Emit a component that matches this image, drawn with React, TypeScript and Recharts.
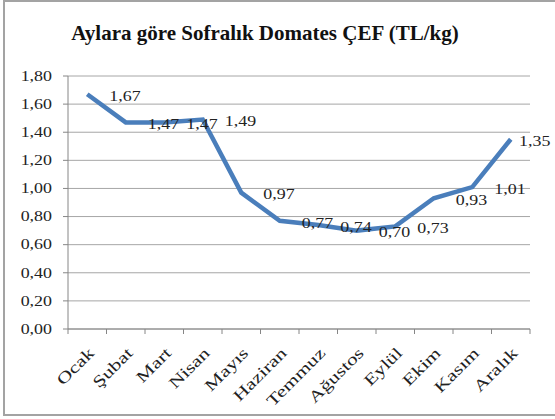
import React from 'react';
import { LineChart, Line, XAxis, YAxis, CartesianGrid } from 'recharts';

const months = ['Ocak', 'Şubat', 'Mart', 'Nisan', 'Mayıs', 'Haziran', 'Temmuz', 'Ağustos', 'Eylül', 'Ekim', 'Kasım', 'Aralık'];
const prices = [1.67, 1.47, 1.47, 1.49, 0.97, 0.77, 0.74, 0.70, 0.73, 0.93, 1.01, 1.35];
const yTicks = [0, 0.2, 0.4, 0.6, 0.8, 1.0, 1.2, 1.4, 1.6, 1.8];
const xTicks = Array.from({ length: 25 }, (_, i) => i / 2);

const data = months.map((m, i) => ({ pos: i + 0.5, month: m, price: prices[i] }));

const FONT = '"Liberation Serif", "Times New Roman", serif';
const SX = 1.28;

const fmt = (v: number) => v.toFixed(2).replace('.', ',');

const YTick = (props: any) => {
  const { x, y, payload } = props;
  return (
    <text transform={`translate(${x - 9},${y}) scale(${SX},1)`} textAnchor="end" dominantBaseline="central" fontFamily={FONT} fontSize={14} fill="#222">
      {fmt(payload.value)}
    </text>
  );
};

const XTick = (props: any) => {
  const { x, y, payload } = props;
  const v = payload.value as number;
  if (Number.isInteger(v)) {
    return <line x1={x} y1={y} x2={x} y2={y + 5} stroke="#868686" strokeWidth={1} />;
  }
  const label = months[Math.floor(v)];
  return (
    <text transform={`translate(${x + 8},${y + 25}) rotate(-45) scale(1.35,1)`} textAnchor="end" fontFamily={FONT} fontSize={16} fill="#222">
      {label}
    </text>
  );
};

const PointLabel = (props: any) => {
  const { x, y, value } = props;
  const lx = Math.min(x + 22, 519);
  return (
    <text transform={`translate(${lx},${y + 2}) scale(${SX},1)`} textAnchor="start" dominantBaseline="central" fontFamily={FONT} fontSize={14} fill="#222">
      {fmt(value)}
    </text>
  );
};

export default function App() {
  return (
    <div style={{ position: 'absolute', left: 0, top: 0, width: 555, height: 419, background: '#fff', overflow: 'hidden' }}>
      <div style={{ position: 'absolute', left: 3, top: 0, width: 600, height: 412, border: '2px solid #a3a3a3' }} />
      <div style={{ position: 'absolute', left: 0, top: 23, width: 530, textAlign: 'center', fontFamily: FONT, fontWeight: 'bold', fontSize: 21, lineHeight: '20px', color: '#111' }}>
        Aylara göre Sofralık Domates ÇEF (TL/kg)
      </div>
      <div style={{ position: 'absolute', left: 0, top: 0 }}>
        <LineChart width={555} height={419} data={data} margin={{ top: 76, right: 25, bottom: 30, left: 8 }}>
          <CartesianGrid vertical={false} stroke="#a6a6a6" strokeWidth={1} />
          <XAxis
            dataKey="pos"
            type="number"
            domain={[0, 12]}
            ticks={xTicks}
            interval={0}
            tick={<XTick />}
            tickLine={false}
            tickSize={0}
            tickMargin={0}
            height={60}
            stroke="#868686"
          />
          <YAxis
            domain={[0, 1.8]}
            ticks={yTicks}
            interval={0}
            tick={<YTick />}
            tickSize={5}
            width={60}
            stroke="#868686"
          />
          <Line
            dataKey="price"
            stroke="#4a7ebb"
            strokeWidth={4.5}
            dot={false}
            isAnimationActive={false}
            label={<PointLabel />}
          />
        </LineChart>
      </div>
    </div>
  );
}
